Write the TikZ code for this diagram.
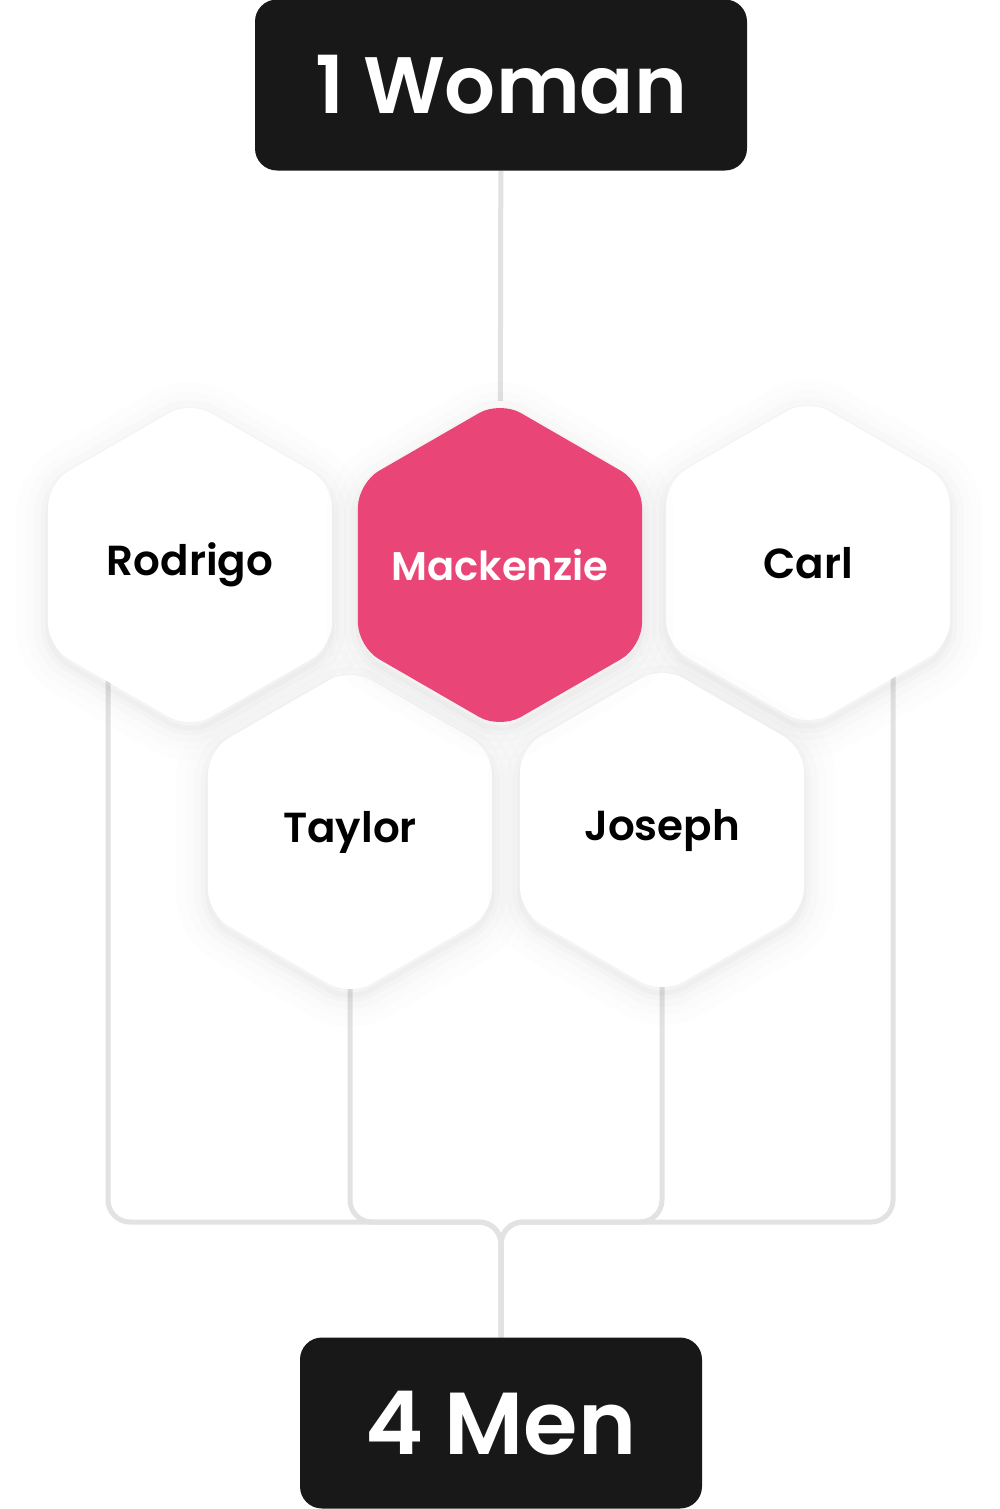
\documentclass[tikz,border=0pt]{standalone}
\usepackage{fontspec}
\setmainfont{Poppins}[BoldFont={Poppins SemiBold}]
\usetikzlibrary{shapes.geometric, positioning, backgrounds}

\definecolor{hexpink}{HTML}{EA4577}
\definecolor{boxdark}{HTML}{181818}
\definecolor{linkgray}{HTML}{E2E2E2}

\begin{document}
\begin{tikzpicture}[
    x=1pt, y=-1pt,
    softshade/.style 2 args={preaction={draw=black, draw opacity=#1,
        line width=#2, transform canvas={yshift=-6pt}}},
    hexcell/.style={
        regular polygon, regular polygon sides=6, shape border rotate=30,
        minimum size=328pt, inner sep=0pt, rounded corners=24pt,
        fill=white, text=black,
        font=\fontsize{42}{46}\selectfont\bfseries,
        execute at begin node={\hbox to 0pt\bgroup\hss},
        execute at end node={\hss\egroup},
        softshade={0.007}{64pt},
        softshade={0.009}{44pt},
        softshade={0.012}{28pt},
        softshade={0.016}{14pt},
        softshade={0.020}{5pt}
    },
    pickcell/.style={hexcell, fill=hexpink, text=white,
        font=\fontsize{40}{44}\selectfont\bfseries},
    darkbox/.style={
        rectangle, rounded corners=22pt, fill=boxdark, text=white,
        inner sep=0pt, font=\fontsize{88}{92}\selectfont\bfseries
    },
    link/.style={draw=linkgray, line width=5pt, rounded corners=22pt}
]
\useasboundingbox (0,0) rectangle (999,1509);

% Title boxes
\node[darkbox, minimum width=492pt, minimum height=171pt,
      font=\fontsize{80}{84}\selectfont\bfseries] (woman) at (501,85) {1 Woman};
\node[darkbox, minimum width=402pt, minimum height=171pt] (men) at (501,1423) {4 Men};

% Hexagon cells
\node[hexcell] (rodrigo) at (190,565) {Rodrigo};
\node[hexcell] (carl) at (808,563) {Carl};
\node[hexcell] (taylor) at (350,832) {Taylor};
\node[hexcell] (joseph) at (662,830) {Joseph};
\node[pickcell] (mackenzie) at (500,565) {Mackenzie};

\coordinate (merge) at (501,1222);

% Connectors
\begin{scope}[on background layer]
\fill[white] (0,0) rectangle (999,1509);
\draw[link] (woman) -- (mackenzie);
\draw[link] ([xshift=-82pt]rodrigo.center) |- (merge) -- (men.north);
\draw[link] (taylor.center) |- (merge) -- (men.north);
\draw[link] (joseph.center) |- (merge) -- (men.north);
\draw[link] ([xshift=85pt]carl.center) |- (merge) -- (men.north);
\end{scope}

\end{tikzpicture}
\end{document}
